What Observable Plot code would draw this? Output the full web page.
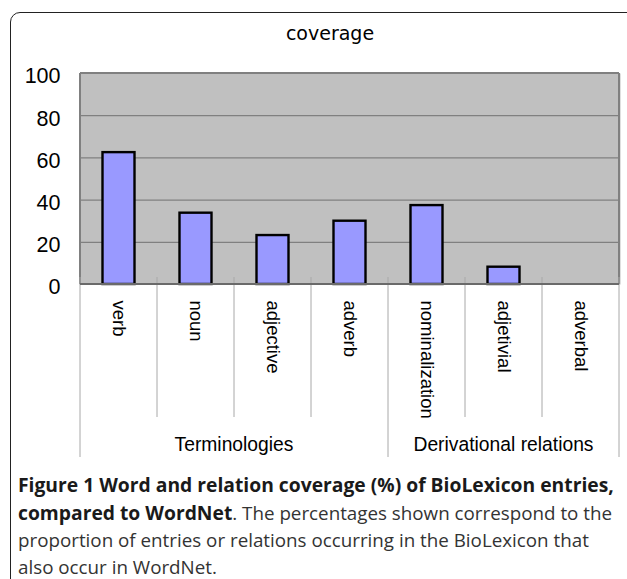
<!DOCTYPE html>
<html>
<head>
<meta charset="utf-8">
<script src="https://cdn.jsdelivr.net/npm/d3@7"></script>
<script src="https://cdn.jsdelivr.net/npm/@observablehq/plot@0.6"></script>
<style>
  html, body { margin: 0; padding: 0; background: #fff; overflow: hidden; }
  #wrap { position: relative; width: 627px; height: 579px; overflow: hidden; }
  #frame { position: absolute; left: 10px; top: 12px; width: 660px; height: 640px;
           border: 1.6px solid #222; border-radius: 10px; box-sizing: border-box; }
  #chart { position: absolute; left: 0; top: 0; }
  #caption { position: absolute; left: 18px; top: 471px; width: 610px;
             font-family: "Open Sans", sans-serif; font-size: 18.8px; line-height: 27px;
             color: #333; white-space: nowrap; }
  #caption b { font-weight: 700; color: #1a1a1a; font-size: 19.3px; }
</style>
</head>
<body>
<div id="wrap">
  <div id="frame"></div>
  <div id="chart"></div>
  <div id="caption"><b>Figure 1 Word and relation coverage (%) of BioLexicon entries,<br>compared to WordNet</b>. The percentages shown correspond to the<br>proportion of entries or relations occurring in the BioLexicon that<br>also occur in WordNet.</div>
</div>
<script>
const categories = ["verb", "noun", "adjective", "adverb", "nominalization", "adjetivial", "adverbal"];
const coverage = [62.5, 33.8, 23.2, 30.0, 37.4, 8.2, 0];
const groups = ["Terminologies", "Derivational relations"];
const groupSizes = [4, 3];
const yTicks = [0, 20, 40, 60, 80, 100];
const chartTitle = "coverage";

const data = categories.map((c, i) => ({category: c, value: coverage[i]}));

const W = 627, H = 468;
const plotTop = 73, plotBottom = 284;
const chart = Plot.plot({
  width: W,
  height: H,
  marginLeft: 79,
  marginRight: 7,
  marginTop: plotTop,
  marginBottom: H - plotBottom,
  style: {fontFamily: "'Liberation Sans', Arial, sans-serif", background: "transparent", overflow: "visible"},
  x: {domain: categories, padding: 0, axis: null},
  y: {domain: [0, 100], ticks: yTicks},
  marks: [
    Plot.frame({fill: "#c0c0c0", stroke: "none"}),
    Plot.gridY(yTicks.filter(t => t > 0 && t < 100), {stroke: "#808080", strokeOpacity: 1, strokeWidth: 1.2}),
    Plot.axisY({ticks: yTicks, tickSize: 0, tickPadding: 19, fontSize: 21.5, dy: 3, label: null, fill: "#000"}),
    Plot.barY(data, {x: "category", y: "value", fill: "#9999ff", stroke: "#000", strokeWidth: 2.4, insetLeft: 22.5, insetRight: 22.5}),
    Plot.text(data, {x: "category", text: "category", frameAnchor: "bottom", rotate: 90, textAnchor: "start", lineAnchor: "middle", dy: 16, fontSize: 18.5, fill: "#000"})
  ]
});

const svg = d3.select(chart);
const xs = chart.scale("x");
const bw = xs.bandwidth;
const g = svg.append("g");

const leftX = xs.apply(categories[0]);
const rightX = xs.apply(categories[categories.length - 1]) + bw;

// plot border
const border = (x1, y1, x2, y2) => g.append("line").attr("x1", x1).attr("x2", x2).attr("y1", y1).attr("y2", y2).attr("stroke", "#808080").attr("stroke-width", 2);
border(leftX, plotTop, rightX, plotTop);
border(rightX, plotTop, rightX, plotBottom);
border(leftX, plotTop, leftX, plotBottom);

// category separators
const groupStarts = [0];
groupSizes.reduce((a, s) => { groupStarts.push(a + s); return a + s; }, 0);
for (let i = 0; i <= categories.length; i++) {
  const px = i < categories.length ? xs.apply(categories[i]) : rightX;
  const isGroupEdge = groupStarts.includes(i);
  g.append("line").attr("x1", px).attr("x2", px).attr("y1", plotBottom - 7).attr("y2", isGroupEdge ? 457 : 417)
    .attr("stroke", "#a8a8a8").attr("stroke-width", 1);
}
// axis line at 0
g.append("line").attr("x1", leftX).attr("x2", rightX).attr("y1", plotBottom).attr("y2", plotBottom).attr("stroke", "#6a6a6a").attr("stroke-width", 2);

// group labels
let start = 0;
groups.forEach((name, gi) => {
  const a = xs.apply(categories[start]);
  const last = start + groupSizes[gi] - 1;
  const b = last < categories.length - 1 ? xs.apply(categories[last + 1]) : rightX;
  svg.append("text").attr("x", (a + b) / 2).attr("y", 451).attr("text-anchor", "middle")
    .attr("font-size", 19.3).attr("font-family", "'Liberation Sans', Arial, sans-serif").attr("fill", "#000").text(name);
  start += groupSizes[gi];
});

// title
svg.append("text").attr("x", 330).attr("y", 40).attr("text-anchor", "middle")
  .attr("font-size", 19).attr("font-family", "'DejaVu Sans', sans-serif").attr("fill", "#000").text(chartTitle);

document.getElementById("chart").appendChild(chart);
</script>
</body>
</html>
